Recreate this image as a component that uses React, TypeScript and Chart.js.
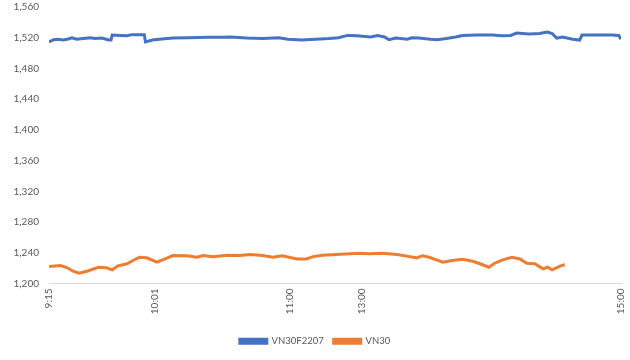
import React, { useEffect, useRef } from "react";
import { Chart, registerables } from "chart.js";

Chart.register(...registerables);

// x positions are session slots (0 = 9:15, 249 = 15:00)
const xTickValues = [0, 46, 105, 136, 249];
const xTickLabels = ["9:15", "10:01", "11:00", "13:00", "15:00"];

const yTicks = [1200, 1240, 1280, 1320, 1360, 1400, 1440, 1480, 1520, 1560];

const seriesNames = ["VN30F2207", "VN30"];

const futX = [0, 2, 4, 6, 8, 10, 12, 15, 18, 20, 23, 26, 27, 27.5, 31, 34, 36, 41.5, 42, 45, 48, 54, 61, 69, 76, 79, 86, 93, 100, 104, 110, 116, 122, 126, 130, 134, 140, 143, 146, 148, 151, 156, 158, 161, 166, 169, 173, 177, 180, 186, 193, 197, 201, 203.5, 209, 213.5, 217, 219, 221, 223.5, 228, 231, 232, 236.5, 245, 248, 249];
const futY = [1514.5, 1517.5, 1518, 1517, 1518, 1520, 1518, 1519, 1520, 1519, 1519.5, 1517, 1517, 1523.5, 1523, 1522.5, 1524, 1524, 1514.5, 1517, 1518, 1519.5, 1520, 1520.5, 1520.5, 1521, 1519.5, 1519, 1520, 1518, 1517, 1518, 1519, 1520, 1523, 1522.5, 1521, 1523, 1521, 1517.5, 1519.5, 1518, 1520, 1519.5, 1518, 1517.5, 1519, 1521, 1523, 1523.5, 1523.5, 1522.5, 1523, 1526, 1525, 1525.5, 1527.5, 1525.5, 1519.5, 1521, 1518, 1517, 1523.5, 1523.5, 1523.5, 1523, 1518];

const idxX = [0, 5, 8, 10.5, 13, 16.5, 21.5, 25, 27.5, 30, 34, 36.5, 39.5, 42.5, 47, 50.5, 54, 60, 64.5, 67, 71.5, 77.5, 83, 87.5, 93, 97.5, 101.5, 108, 112, 115, 119, 125, 131, 135, 139.5, 145, 151.5, 157, 160, 162.5, 165.5, 171.5, 175.5, 180, 184.5, 188.5, 191.5, 194, 197.5, 201.5, 205, 208, 211.5, 215, 217, 219, 222, 224.5];
const idxY = [1222, 1223.4, 1220.4, 1216, 1213.4, 1216, 1221.2, 1220.4, 1217.8, 1223, 1225.6, 1230, 1234.2, 1233.4, 1227.7, 1232, 1236.4, 1236, 1234.2, 1236.4, 1235, 1236.8, 1236.4, 1237.7, 1236.4, 1234.2, 1236, 1232, 1232, 1235, 1236.8, 1237.7, 1238.6, 1239.4, 1238.6, 1239.4, 1237.7, 1235, 1233.4, 1236, 1234.2, 1227.7, 1230, 1231.6, 1229, 1224.7, 1221.2, 1226.4, 1230.8, 1234.2, 1232, 1226.4, 1225.6, 1219.1, 1221.2, 1217.8, 1222, 1224.7];

const colors = ["#4472C4", "#ED7D31"];
const FONT = "Lato, 'Liberation Sans', sans-serif";
const TEXT = "#595959";

export default function App() {
  const ref = useRef<HTMLCanvasElement | null>(null);
  useEffect(() => {
    if (!ref.current) return;
    const toPts = (xs: number[], ys: number[]) => xs.map((x, i) => ({ x, y: ys[i] }));
    const chart = new Chart(ref.current, {
      type: "line",
      data: {
        datasets: [
          {
            label: seriesNames[0],
            data: toPts(futX, futY),
            borderColor: colors[0],
            backgroundColor: colors[0],
            borderWidth: 3,
            pointRadius: 0,
            tension: 0,
          },
          {
            label: seriesNames[1],
            data: toPts(idxX, idxY),
            borderColor: colors[1],
            backgroundColor: colors[1],
            borderWidth: 3,
            pointRadius: 0,
            tension: 0,
          },
        ],
      },
      options: {
        animation: false,
        responsive: false,
        maintainAspectRatio: false,
        layout: { padding: { left: 0, right: 0, top: 0, bottom: 4 } },
        plugins: {
          tooltip: { enabled: false },
          legend: {
            position: "bottom",
            labels: {
              color: TEXT,
              font: { family: FONT, size: 9.5 },
              boxWidth: 27,
              boxHeight: 4,
              padding: 10,
            },
          },
        },
        scales: {
          x: {
            type: "linear",
            min: 0,
            max: 249,
            grid: { display: false, drawTicks: false },
            border: { display: true, color: "#D9D9D9", width: 1 },
            afterBuildTicks: (scale: any) => {
              scale.ticks = xTickValues.map((v) => ({ value: v }));
            },
            afterFit: (scale: any) => {
              scale.height = 43;
              scale.paddingLeft = 0;
              scale.paddingRight = 9;
            },
            ticks: {
              autoSkip: false,
              minRotation: 90,
              maxRotation: 90,
              padding: 5,
              color: TEXT,
              font: { family: FONT, size: 10 },
              callback: (v: any) => {
                const i = xTickValues.indexOf(Number(v));
                return i >= 0 ? xTickLabels[i] : "";
              },
            },
          },
          y: {
            min: yTicks[0],
            max: yTicks[yTicks.length - 1],
            grid: { display: false, drawTicks: false },
            border: { display: false },
            afterBuildTicks: (scale: any) => {
              scale.ticks = yTicks.map((v) => ({ value: v }));
            },
            afterFit: (scale: any) => {
              scale.width = 49;
              scale.paddingTop = 7;
              scale.paddingBottom = 0;
            },
            ticks: {
              padding: 10,
              color: TEXT,
              font: { family: FONT, size: 10 },
              callback: (v: any) => Number(v).toLocaleString("en-US"),
            },
          },
        },
      },
    });
    return () => chart.destroy();
  }, []);
  return (
    <div style={{ position: "fixed", left: 0, top: 0, width: 630, height: 360, background: "#fff" }}>
      <canvas ref={ref} width={630} height={360} style={{ width: 630, height: 360 }} />
    </div>
  );
}
